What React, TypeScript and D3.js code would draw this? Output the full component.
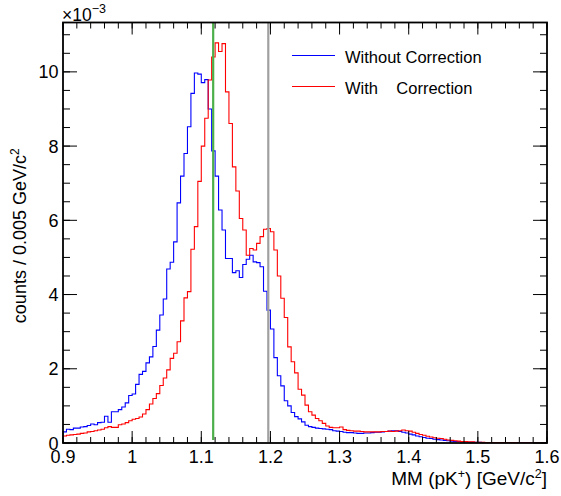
import React from "react";
import * as d3 from "d3";

const X_MIN = 0.9;
const X_MAX = 1.6;
const BIN_WIDTH = 0.005;
const Y_MAX = 11.33; // in units of 1e-3

// Without correction (counts / 0.005 GeV/c^2, x 1e-3), 140 bins from 0.9 to 1.6
const withoutCorr = [
  0.30, 0.37, 0.36, 0.40, 0.40, 0.43, 0.44, 0.47, 0.51, 0.49,
  0.55, 0.56, 0.72, 0.56, 0.84, 0.84, 0.90, 0.97, 1.08, 1.28,
  1.32, 1.58, 1.85, 1.93, 2.16, 2.32, 2.60, 3.04, 3.45, 3.88,
  4.69, 4.87, 5.42, 6.47, 7.19, 7.80, 8.52, 9.42, 9.97, 9.94,
  9.71, 9.79, 9.00, 7.87, 7.19, 6.28, 5.74, 4.97, 4.97, 4.59,
  4.64, 4.46, 4.81, 4.95, 5.06, 4.88, 4.86, 4.75, 4.09, 3.58,
  3.07, 2.30, 1.81, 1.54, 1.14, 1.00, 0.82, 0.71, 0.65, 0.57,
  0.48, 0.44, 0.42, 0.40, 0.39, 0.38, 0.37, 0.36, 0.33, 0.32,
  0.31, 0.29, 0.28, 0.28, 0.27, 0.26, 0.26, 0.27, 0.27, 0.28,
  0.29, 0.29, 0.30, 0.31, 0.32, 0.33, 0.33, 0.31, 0.29, 0.27,
  0.24, 0.22, 0.19, 0.17, 0.15, 0.13, 0.12, 0.10, 0.09, 0.08,
  0.07, 0.06, 0.05, 0.04, 0.04, 0.03, 0.03, 0.02, 0.02, 0.02,
  0.02, 0.015, 0.015, 0.01, 0.01, 0.01, 0.01, 0.01, 0.01, 0.01,
  0.01, 0.008, 0.008, 0.008, 0.008, 0.006, 0.006, 0.006, 0.005, 0.005,
];

// With correction
const withCorr = [
  0.19, 0.21, 0.22, 0.23, 0.24, 0.26, 0.27, 0.30, 0.31, 0.33,
  0.35, 0.37, 0.41, 0.44, 0.42, 0.42, 0.49, 0.51, 0.55, 0.60,
  0.64, 0.66, 0.70, 0.78, 0.90, 1.05, 1.20, 1.33, 1.55, 1.75,
  1.97, 2.28, 2.42, 2.73, 3.29, 3.91, 4.08, 5.22, 5.83, 7.05,
  8.00, 8.75, 9.78, 10.40, 10.78, 10.55, 10.76, 9.46, 8.61, 7.44,
  6.79, 6.05, 5.74, 5.06, 5.24, 5.20, 5.38, 5.56, 5.76, 5.78,
  5.69, 5.20, 4.50, 3.90, 3.38, 2.59, 2.19, 1.89, 1.45, 1.29,
  1.02, 0.84, 0.75, 0.66, 0.60, 0.53, 0.46, 0.42, 0.41, 0.41,
  0.43, 0.36, 0.34, 0.33, 0.32, 0.32, 0.31, 0.30, 0.30, 0.30,
  0.30, 0.30, 0.31, 0.31, 0.32, 0.31, 0.32, 0.33, 0.35, 0.33,
  0.32, 0.29, 0.26, 0.23, 0.21, 0.18, 0.16, 0.14, 0.13, 0.12,
  0.10, 0.08, 0.07, 0.06, 0.05, 0.04, 0.04, 0.03, 0.03, 0.02,
  0.02, 0.02, 0.015, 0.015, 0.01, 0.01, 0.01, 0.01, 0.01, 0.01,
  0.01, 0.008, 0.008, 0.008, 0.008, 0.006, 0.006, 0.006, 0.005, 0.005,
];

const xMajorTicks = [0.9, 1.0, 1.1, 1.2, 1.3, 1.4, 1.5, 1.6];
const xTickLabels = ["0.9", "1", "1.1", "1.2", "1.3", "1.4", "1.5", "1.6"];
const yMajorTicks = [0, 2, 4, 6, 8, 10];
const yTickLabels = ["0", "2", "4", "6", "8", "10"];

const markerLines = [
  { x: 1.1172, color: "#4daf4a", yFrom: 0.08 },
  { x: 1.1969, color: "#a0a0a0", yFrom: 0.03 },
];

const series = [
  { name: "Without Correction", label: "Without Correction", values: withoutCorr, color: "#0000ff" },
  { name: "With Correction", label: "With    Correction", values: withCorr, color: "#ff0000" },
];

const W = 561;
const H = 496;
const M = { left: 63, right: 547, top: 22.5, bottom: 443 };
const FONT = "'Liberation Sans', Arial, Helvetica, sans-serif";

export default function App() {
  const x = d3.scaleLinear().domain([X_MIN, X_MAX]).range([M.left, M.right]);
  const y = d3.scaleLinear().domain([0, Y_MAX]).range([M.bottom, M.top]);

  const xMinor = d3.range(0, 36).map((i) => X_MIN + i * 0.02);
  const yMinor = d3.range(0, 23).map((i) => i * 0.5);

  const stepLine = d3
    .line<[number, number]>()
    .x((d) => x(d[0]))
    .y((d) => y(d[1]))
    .curve(d3.curveStepAfter);

  const pathFor = (vals: number[]) => {
    const pts: [number, number][] = vals.map((v, i) => [X_MIN + i * BIN_WIDTH, v]);
    pts.push([X_MIN + vals.length * BIN_WIDTH, vals[vals.length - 1]]);
    return stepLine(pts) || "";
  };

  return (
    <svg
      width={W}
      height={H}
      style={{ position: "absolute", left: 0, top: 0, background: "#fff" }}
      fontFamily={FONT}
    >
      <rect x={0} y={0} width={W} height={H} fill="#fff" />
      <defs>
        <clipPath id="plotclip">
          <rect x={M.left} y={M.top} width={M.right - M.left} height={M.bottom - M.top} />
        </clipPath>
      </defs>

      {/* histograms */}
      <g clipPath="url(#plotclip)">
        {series.map((s) => (
          <path key={s.name} d={pathFor(s.values)} fill="none" stroke={s.color} strokeWidth={1.1} />
        ))}
      </g>

      {/* marker lines */}
      {markerLines.map((m, i) => (
        <line
          key={i}
          x1={x(m.x)}
          x2={x(m.x)}
          y1={y(m.yFrom)}
          y2={y(Y_MAX)}
          stroke={m.color}
          strokeWidth={2.2}
        />
      ))}

      {/* ticks */}
      <g stroke="#000" strokeWidth={1}>
        {xMinor.map((v, i) => (
          <g key={"xm" + i}>
            <line x1={x(v)} x2={x(v)} y1={M.bottom} y2={M.bottom - 6} />
            <line x1={x(v)} x2={x(v)} y1={M.top} y2={M.top + 6} />
          </g>
        ))}
        {xMajorTicks.map((v, i) => (
          <g key={"xM" + i}>
            <line x1={x(v)} x2={x(v)} y1={M.bottom} y2={M.bottom - 12} />
            <line x1={x(v)} x2={x(v)} y1={M.top} y2={M.top + 12} />
          </g>
        ))}
        {yMinor.map((v, i) => (
          <g key={"ym" + i}>
            <line x1={M.left} x2={M.left + 7} y1={y(v)} y2={y(v)} />
            <line x1={M.right} x2={M.right - 7} y1={y(v)} y2={y(v)} />
          </g>
        ))}
        {yMajorTicks.map((v, i) => (
          <g key={"yM" + i}>
            <line x1={M.left} x2={M.left + 14} y1={y(v)} y2={y(v)} />
            <line x1={M.right} x2={M.right - 14} y1={y(v)} y2={y(v)} />
          </g>
        ))}
      </g>

      {/* frame */}
      <rect
        x={M.left}
        y={M.top}
        width={M.right - M.left}
        height={M.bottom - M.top}
        fill="none"
        stroke="#000"
        strokeWidth={1.8}
      />

      {/* tick labels */}
      <g fontSize={18} fill="#000">
        {xMajorTicks.map((v, i) => (
          <text key={"xl" + i} x={x(v)} y={463} textAnchor="middle">
            {xTickLabels[i]}
          </text>
        ))}
        {yMajorTicks.map((v, i) => (
          <text key={"yl" + i} x={58.5} y={y(v) + 6.5} textAnchor="end">
            {yTickLabels[i]}
          </text>
        ))}
      </g>

      {/* exponent */}
      <text x={62} y={20.5} fontSize={17.5} fill="#000">
        ×10
        <tspan fontSize={12.5} dy={-8}>
          −3
        </tspan>
      </text>

      {/* axis titles */}
      <text x={547} y={485} fontSize={19} textAnchor="end" fill="#000">
        MM (pK
        <tspan fontSize={12.5} dy={-7.5}>+</tspan>
        <tspan dy={7.5}>) [GeV/c</tspan>
        <tspan fontSize={12.5} dy={-7.5}>2</tspan>
        <tspan dy={7.5}>]</tspan>
      </text>
      <text
        transform={`translate(26,${(M.top + M.bottom) / 2 + 3}) rotate(-90)`}
        fontSize={18}
        textAnchor="middle"
        fill="#000"
      >
        counts / 0.005 GeV/c
        <tspan fontSize={12} dy={-7}>2</tspan>
      </text>

      {/* legend */}
      {series.map((s, i) => (
        <g key={"lg" + i}>
          <line x1={292} x2={335} y1={55.5 + i * 31} y2={55.5 + i * 31} stroke={s.color} strokeWidth={1} />
          <text x={345} y={62.5 + i * 31} fontSize={16.5} fill="#000" style={{ whiteSpace: "pre" }}>
            {s.label}
          </text>
        </g>
      ))}
    </svg>
  );
}
